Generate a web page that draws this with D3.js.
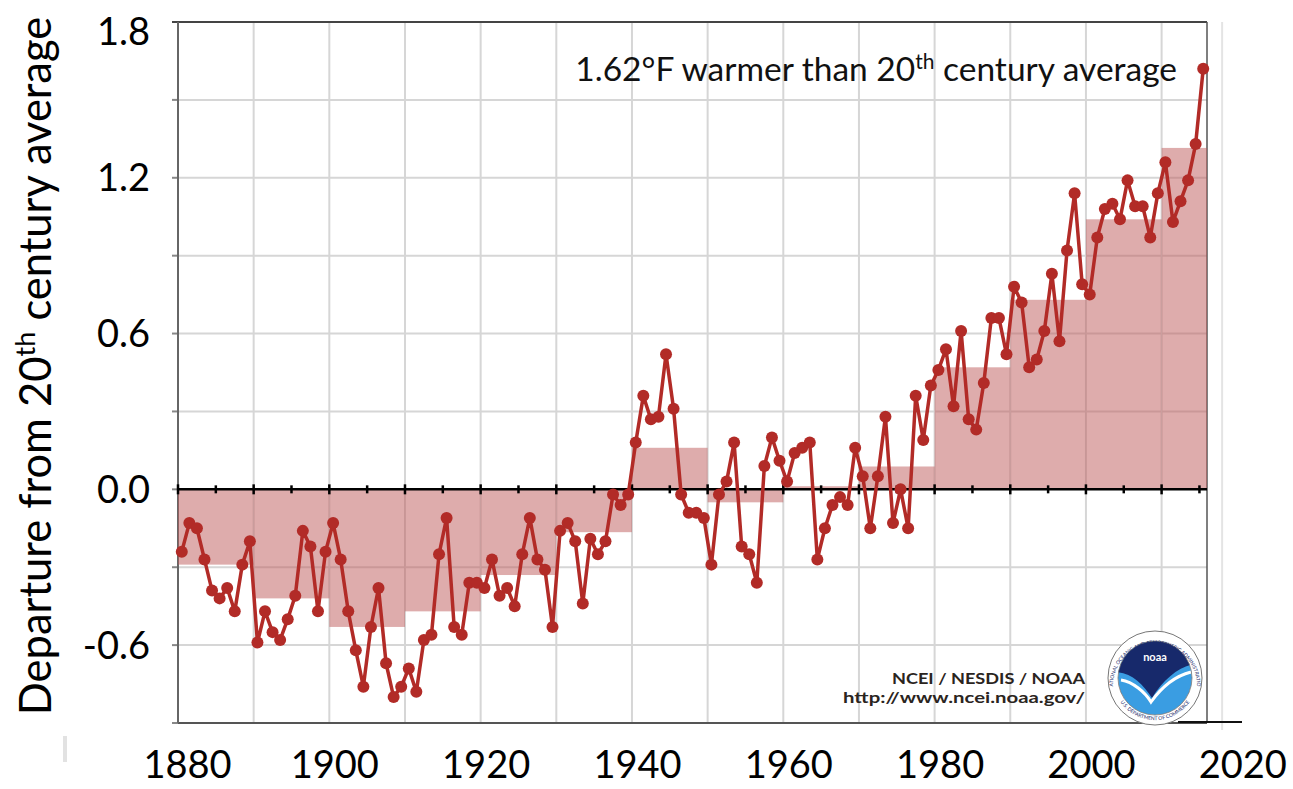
<!DOCTYPE html>
<html>
<head>
<meta charset="utf-8">
<script src="https://cdn.jsdelivr.net/npm/d3@7"></script>
<style>
    body { margin: 0; background: #fff; }
    text { font-family: Lato, "Open Sans", sans-serif; }
</style>
</head>
<body>
<div id="chart"></div>
<script>
// annual global land+ocean temperature departure, deg F (1880-2015)
var firstYear = 1880;
var anomalies = [
    -0.24, -0.13, -0.15, -0.27, -0.39, -0.42, -0.38, -0.47, -0.29, -0.20,
    -0.59, -0.47, -0.55, -0.58, -0.50, -0.41, -0.16, -0.22, -0.47, -0.24,
    -0.13, -0.27, -0.47, -0.62, -0.76, -0.53, -0.38, -0.67, -0.80, -0.76,
    -0.69, -0.78, -0.58, -0.56, -0.25, -0.11, -0.53, -0.56, -0.36, -0.36,
    -0.38, -0.27, -0.41, -0.38, -0.45, -0.25, -0.11, -0.27, -0.31, -0.53,
    -0.16, -0.13, -0.20, -0.44, -0.19, -0.25, -0.20, -0.02, -0.06, -0.02,
    0.18, 0.36, 0.27, 0.28, 0.52, 0.31, -0.02, -0.09, -0.09, -0.11,
    -0.29, -0.02, 0.03, 0.18, -0.22, -0.25, -0.36, 0.09, 0.20, 0.11,
    0.03, 0.14, 0.16, 0.18, -0.27, -0.15, -0.06, -0.03, -0.06, 0.16,
    0.05, -0.15, 0.05, 0.28, -0.13, 0.00, -0.15, 0.36, 0.19, 0.40,
    0.46, 0.54, 0.32, 0.61, 0.27, 0.23, 0.41, 0.66, 0.66, 0.52,
    0.78, 0.72, 0.47, 0.50, 0.61, 0.83, 0.57, 0.92, 1.14, 0.79,
    0.75, 0.97, 1.08, 1.10, 1.04, 1.19, 1.09, 1.09, 0.97, 1.14,
    1.26, 1.03, 1.11, 1.19, 1.33, 1.62
];

// decade averages (shaded steps)
var decadeStarts = [1880, 1890, 1900, 1910, 1920, 1930, 1940, 1950, 1960, 1970, 1980, 1990, 2000, 2010];
var decadeEnds   = [1890, 1900, 1910, 1920, 1930, 1940, 1950, 1960, 1970, 1980, 1990, 2000, 2010, 2016];
var decadeAvgs   = [-0.29, -0.42, -0.53, -0.47, -0.33, -0.165, 0.16, -0.05, 0.012, 0.088, 0.47, 0.73, 1.04, 1.315];

var yearLabels = [1880, 1900, 1920, 1940, 1960, 1980, 2000, 2020];
var valueLabels = [1.8, 1.2, 0.6, 0.0, -0.6];
var gridValues = [1.5, 1.2, 0.9, 0.6, 0.3, -0.3, -0.6];
var gridYears = [1890, 1900, 1910, 1920, 1930, 1940, 1950, 1960, 1970, 1980, 1990, 2000, 2010, 2018];

var width = 1293,
    height = 789,
    lineColor = "#b22b27";

var x = d3.scaleLinear().domain([1880, 2016]).range([178, 1207]);
var y = d3.scaleLinear().domain([-0.9, 1.8]).range([723, 22]);

var svg = d3.select("#chart").append("svg")
    .attr("width", width)
    .attr("height", height);

var series = anomalies.map(function (v, i) {
    return { year: firstYear + i, value: v };
});

// gridlines
svg.append("g").selectAll("line")
    .data(gridValues)
    .enter().append("line")
    .attr("x1", x(1880)).attr("x2", x(2016))
    .attr("y1", function (d) { return y(d); })
    .attr("y2", function (d) { return y(d); })
    .attr("stroke", "#d6d6d6")
    .attr("stroke-width", 2);

svg.append("g").selectAll("line")
    .data(gridYears)
    .enter().append("line")
    .attr("x1", function (d) { return x(d); })
    .attr("x2", function (d) { return x(d); })
    .attr("y1", y(1.8))
    .attr("y2", function (d) { return d > 2016 ? y(-0.9) + 7 : y(-0.9); })
    .attr("stroke", function (d) { return d > 2016 ? "#e4e4e4" : "#d6d6d6"; })
    .attr("stroke-width", 2);

// left ticks
svg.append("g").selectAll("line")
    .data(d3.range(-0.9, 1.81, 0.3))
    .enter().append("line")
    .attr("x1", x(1880) - 6).attr("x2", x(1880))
    .attr("y1", function (d) { return y(d); })
    .attr("y2", function (d) { return y(d); })
    .attr("stroke", "#888")
    .attr("stroke-width", 2);

// plot frame
svg.append("line")
    .attr("x1", x(1880) - 6).attr("x2", x(2016))
    .attr("y1", y(1.8)).attr("y2", y(1.8))
    .attr("stroke", "#444").attr("stroke-width", 2);
svg.append("line")
    .attr("x1", x(1880)).attr("x2", x(2016))
    .attr("y1", y(-0.9)).attr("y2", y(-0.9))
    .attr("stroke", "#555").attr("stroke-width", 2);
svg.append("line")
    .attr("x1", x(1880)).attr("x2", x(1880))
    .attr("y1", y(1.8)).attr("y2", y(-0.9))
    .attr("stroke", "#666").attr("stroke-width", 2);
svg.append("line")
    .attr("x1", x(2016)).attr("x2", x(2016))
    .attr("y1", y(1.8)).attr("y2", y(-0.9))
    .attr("stroke", "#555").attr("stroke-width", 1.5);
svg.append("line")
    .attr("x1", 1178).attr("x2", 1242)
    .attr("y1", y(-0.9) - 1).attr("y2", y(-0.9) - 1)
    .attr("stroke", "#111").attr("stroke-width", 2);

// decade average bars
svg.append("g").selectAll("rect")
    .data(decadeAvgs)
    .enter().append("rect")
    .attr("x", function (d, i) { return x(decadeStarts[i]); })
    .attr("width", function (d, i) { return x(decadeEnds[i]) - x(decadeStarts[i]); })
    .attr("y", function (d) { return d > 0 ? y(d) : y(0); })
    .attr("height", function (d) { return Math.abs(y(d) - y(0)); })
    .attr("fill", "#bd5a5a")
    .attr("fill-opacity", 0.5);

// zero line with ticks every 5 years
svg.append("line")
    .attr("x1", x(1880)).attr("x2", x(2016))
    .attr("y1", y(0)).attr("y2", y(0))
    .attr("stroke", "#000").attr("stroke-width", 2.5);

svg.append("g").selectAll("line")
    .data(d3.range(1880, 2016, 5))
    .enter().append("line")
    .attr("x1", function (d) { return x(d); })
    .attr("x2", function (d) { return x(d); })
    .attr("y1", function (d) { return y(0) - (d % 10 === 0 ? 5 : 4); })
    .attr("y2", function (d) { return y(0) + (d % 10 === 0 ? 5 : 4); })
    .attr("stroke", "#000")
    .attr("stroke-width", 2.5);

// annual series
var line = d3.line()
    .x(function (d) { return x(d.year + 0.5); })
    .y(function (d) { return y(d.value); });

svg.append("path")
    .datum(series)
    .attr("d", line)
    .attr("fill", "none")
    .attr("stroke", lineColor)
    .attr("stroke-width", 3.5)
    .attr("stroke-linejoin", "round");

svg.append("g").selectAll("circle")
    .data(series)
    .enter().append("circle")
    .attr("cx", function (d) { return x(d.year + 0.5); })
    .attr("cy", function (d) { return y(d.value); })
    .attr("r", 6)
    .attr("fill", lineColor);

// axis labels
var xAxis = d3.axisBottom(x)
    .tickValues(yearLabels)
    .tickFormat(d3.format("d"))
    .tickSize(0)
    .tickPadding(0);

svg.append("g")
    .attr("transform", "translate(5," + 751 + ")")
    .call(xAxis)
    .call(function (g) {
        g.select(".domain").remove();
        g.selectAll("text")
            .attr("dy", "0.71em")
            .attr("fill", "#000")
            .style("font-size", "38px")
            .style("font-family", "Lato, sans-serif")
            .attr("x", function (d) { return d === 1880 ? 4 : 0; });
    });

var yAxis = d3.axisLeft(y)
    .tickValues(valueLabels)
    .tickFormat(function (d) { return d3.format(".1f")(d).replace("\u2212", "-"); })
    .tickSize(0)
    .tickPadding(0);

svg.append("g")
    .attr("transform", "translate(150,0)")
    .call(yAxis)
    .call(function (g) {
        g.select(".domain").remove();
        g.selectAll(".tick")
            .attr("transform", function (d) {
                return "translate(0," + Math.max(y(d), 31) + ")";
            });
        g.selectAll("text")
            .attr("fill", "#000")
            .attr("dy", "0.36em")
            .style("font-size", "38px")
            .style("font-family", "Lato, sans-serif");
    });

// y title
var ytitle = svg.append("text")
    .attr("transform", "translate(51,366) rotate(-90)")
    .attr("text-anchor", "middle")
    .style("font-size", "43.5px")
    .attr("fill", "#000");
ytitle.append("tspan").text("Departure from 20");
ytitle.append("tspan").attr("baseline-shift", "super").style("font-size", "27px").text("th");
ytitle.append("tspan").text(" century average");

// annotation
var note = svg.append("text")
    .attr("x", 1177)
    .attr("y", 81)
    .attr("text-anchor", "end")
    .style("font-size", "33.5px")
    .attr("fill", "#111");
note.append("tspan").text("1.62\u00b0F warmer than 20");
note.append("tspan").attr("baseline-shift", "super").style("font-size", "21px").text("th");
note.append("tspan").text(" century average");

// credits
var credits = svg.append("text")
    .attr("text-anchor", "end")
    .style("font-size", "16px").style("font-weight", "bold")
    .attr("fill", "#2a2420");
credits.append("tspan")
    .attr("x", 1085).attr("y", 684)
    .attr("textLength", 193).attr("lengthAdjust", "spacingAndGlyphs")
    .text("NCEI / NESDIS / NOAA");
credits.append("tspan")
    .attr("x", 1085).attr("y", 703)
    .attr("textLength", 242).attr("lengthAdjust", "spacingAndGlyphs")
    .text("http://www.ncei.noaa.gov/");

// NOAA emblem
var logo = svg.append("g").attr("transform", "translate(1155,678)");
logo.append("circle").attr("r", 47).attr("fill", "#fff").attr("stroke", "#777").attr("stroke-width", 1);

var defs = svg.append("defs");
defs.append("clipPath").attr("id", "logoClip")
    .append("circle").attr("r", 37);
defs.append("path").attr("id", "ringTop")
    .attr("d", "M-42,8 A42,42 0 1,1 42,8");
defs.append("path").attr("id", "ringBottom")
    .attr("d", "M-38,18 A42,42 0 0,0 38,18");

var inner = logo.append("g").attr("clip-path", "url(#logoClip)");
inner.append("circle").attr("r", 37).attr("fill", "#3a9de2");
inner.append("path")
    .attr("d", "M-40,-40 L40,-40 L40,-14 C24,-12 8,2 -3,20 C-12,6 -24,-6 -40,-6 Z")
    .attr("fill", "#17296b");
inner.append("path")
    .attr("d", "M-34,2 C-22,4 -10,14 -4,24 C6,10 20,-2 36,-6")
    .attr("fill", "none").attr("stroke", "#fff").attr("stroke-width", 3);
logo.append("circle").attr("r", 37).attr("fill", "none").attr("stroke", "#777").attr("stroke-width", 0.8);

// ring lettering and emblem name in one text element
var ring = logo.append("text")
    .style("font-size", "5px").attr("fill", "#1b2a6b");
ring.append("textPath").attr("href", "#ringTop")
    .attr("startOffset", "50%").attr("text-anchor", "middle")
    .text("NATIONAL OCEANIC AND ATMOSPHERIC ADMINISTRATION");
ring.append("textPath").attr("href", "#ringBottom")
    .attr("startOffset", "50%").attr("text-anchor", "middle")
    .text("U.S. DEPARTMENT OF COMMERCE");
ring.append("tspan")
    .attr("x", 0).attr("y", -17)
    .attr("text-anchor", "middle")
    .style("font-size", "11px").style("font-weight", "bold")
    .attr("fill", "#fff")
    .text("noaa");

// scan artefact at bottom left
svg.append("rect")
    .attr("x", 63).attr("y", 736).attr("width", 4).attr("height", 26)
    .attr("fill", "#e2e2e2");
</script>
</body>
</html>
